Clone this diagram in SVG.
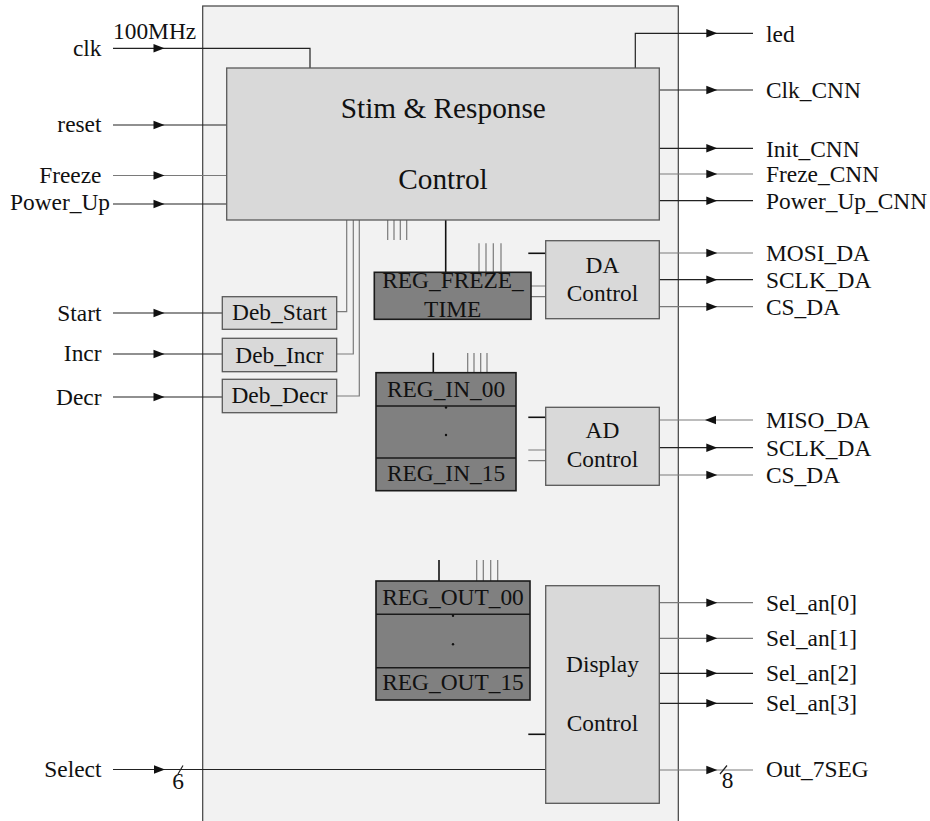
<svg xmlns="http://www.w3.org/2000/svg" xmlns:xlink="http://www.w3.org/1999/xlink" width="930" height="821" viewBox="0 0 930 821">
<style>
text{font-family:"Liberation Serif","Times New Roman",serif;font-size:23.4px;fill:#111}
.c{text-anchor:middle}
.e{text-anchor:end}
.big{font-size:29.3px}
.blk{fill:#d9d9d9;stroke:#595959;stroke-width:1.3}
.reg{fill:#808080;stroke:#1a1a1a;stroke-width:1.6}
.w{fill:none;stroke:#222;stroke-width:1.2}
.g{fill:none;stroke:#7a7a7a;stroke-width:1.2}
.d{fill:none;stroke:#111;stroke-width:1.6}
</style>
<defs>
<path id="arr" d="M0,0 L-11,-4.2 L-11,4.2 Z" fill="#111"/>
</defs>
<rect id="outer" x="202.7" y="6" width="475.6" height="830" fill="#f2f2f2" stroke="#404040" stroke-width="1.2"/>

<g id="connectors">
<path class="w" d="M113,48.3 H310 V68"/>
<path class="w" d="M113,125 H226.7"/>
<path class="g" d="M113,175.5 H226.7"/>
<path class="w" d="M113,204 H226.7"/>
<path class="w" d="M113,313 H222.3"/>
<path class="w" d="M113,354 H222.3"/>
<path class="w" d="M113,397 H222.3"/>
<path class="w" d="M113,769.5 H545.7"/>
<path class="w" d="M635.3,68 V33.3 H753"/>
<path class="w" d="M659.3,90 H753"/>
<path class="w" d="M659.3,148.3 H753"/>
<path class="g" d="M659.3,174 H753"/>
<path class="w" d="M659.3,200.7 H753"/>
<path class="g" d="M659.3,253 H753"/>
<path class="w" d="M659.3,279.7 H753"/>
<path class="g" d="M659.3,306.7 H753"/>
<path class="g" d="M659.3,420 H753"/>
<path class="w" d="M659.3,447.7 H753"/>
<path class="g" d="M659.3,475 H753"/>
<path class="g" d="M659.3,602.7 H753"/>
<path class="g" d="M659.3,638.3 H753"/>
<path class="w" d="M659.3,673.3 H753"/>
<path class="w" d="M659.3,703.3 H753"/>
<path class="g" d="M659.3,770 H753"/>
<path class="g" d="M336.7,311.7 H346.7 V220"/>
<path class="g" d="M336.7,354 H353.3 V220"/>
<path class="g" d="M336.7,396 H359.3 V220"/>
<path class="g" d="M387.7,220 V240 M394,220 V240 M400.3,220 V240 M406.7,220 V240"/>
<path class="d" d="M445.7,220 V272.3"/>
<path class="g" d="M479,243.3 V272.3 M486,243.3 V272.3 M493.3,243.3 V272.3 M501,243.3 V272.3"/>
<path class="g" d="M531,286 H545.7 M531,296.7 H545.7"/>
<path class="d" d="M528.3,253.3 H545.7"/>
<path class="d" d="M433.3,352.7 V372.7"/>
<path class="g" d="M467.7,353 V372.7 M474,353 V372.7 M480.7,353 V372.7 M487,353 V372.7"/>
<path class="d" d="M528.3,417.3 H545.7"/>
<path class="g" d="M528.3,450 H545.7 M528.3,460.7 H545.7"/>
<path class="d" d="M439,560 V581"/>
<path class="g" d="M476.7,560 V581 M483.3,560 V581 M490.7,560 V581 M497.7,560 V581"/>
<path class="d" d="M528.3,734.3 H545.7"/>
<path class="w" d="M178,774 L183,765.5 M720,774 L727,765.5"/>
<use xlink:href="#arr" x="164.5" y="48.3"/>
<use xlink:href="#arr" x="164.5" y="125"/>
<use xlink:href="#arr" x="164.5" y="175.5"/>
<use xlink:href="#arr" x="164.5" y="204"/>
<use xlink:href="#arr" x="164.5" y="313"/>
<use xlink:href="#arr" x="164.5" y="354"/>
<use xlink:href="#arr" x="164.5" y="397"/>
<use xlink:href="#arr" x="165" y="769.5"/>
<use xlink:href="#arr" x="717.3" y="33.3"/>
<use xlink:href="#arr" x="717.3" y="90"/>
<use xlink:href="#arr" x="717.3" y="148.3"/>
<use xlink:href="#arr" x="717.3" y="174"/>
<use xlink:href="#arr" x="717.3" y="200.7"/>
<use xlink:href="#arr" x="717.3" y="253"/>
<use xlink:href="#arr" x="717.3" y="279.7"/>
<use xlink:href="#arr" x="717.3" y="306.7"/>
<use xlink:href="#arr" transform="translate(705,420) rotate(180)"/>
<use xlink:href="#arr" x="717.3" y="447.7"/>
<use xlink:href="#arr" x="717.3" y="475"/>
<use xlink:href="#arr" x="717.3" y="602.7"/>
<use xlink:href="#arr" x="717.3" y="638.3"/>
<use xlink:href="#arr" x="717.3" y="673.3"/>
<use xlink:href="#arr" x="717.3" y="703.3"/>
<use xlink:href="#arr" x="717.3" y="770"/>
</g>

<g id="stim">
<rect class="blk" x="226.7" y="68" width="432.6" height="152"/>
<text class="c big" x="443.3" y="117.7">Stim &amp; Response</text>
<text class="c big" x="443" y="189.3">Control</text>
</g>
<g id="deb_start"><rect class="blk" x="222.3" y="296.7" width="114.4" height="32.6"/><text class="c" x="279.5" y="320">Deb_Start</text></g>
<g id="deb_incr"><rect class="blk" x="222.3" y="338.3" width="114.4" height="33.4"/><text class="c" x="279.5" y="362.7">Deb_Incr</text></g>
<g id="deb_decr"><rect class="blk" x="222.3" y="379.3" width="114.4" height="33.4"/><text class="c" x="279.5" y="403.3">Deb_Decr</text></g>
<g id="reg_freze">
<rect class="reg" x="374.3" y="272.3" width="156.7" height="47"/>
<text class="c" x="453" y="288.3">REG_FREZE_</text>
<text class="c" x="452.7" y="316.7">TIME</text>
</g>
<g id="da_control">
<rect class="blk" x="545.7" y="240.7" width="113.6" height="78"/>
<text class="c" x="602.5" y="273.3">DA</text>
<text class="c" x="602.5" y="301">Control</text>
</g>
<g id="reg_in">
<rect class="reg" x="376" y="372.7" width="140" height="118"/>
<path d="M376,406 H516 M376,458 H516" stroke="#1a1a1a" stroke-width="1.6"/>
<circle cx="446" cy="407.5" r="1.2" fill="#111"/>
<circle cx="446" cy="435" r="1.2" fill="#111"/>
<text class="c" x="446" y="396.7">REG_IN_00</text>
<text class="c" x="446" y="480.7">REG_IN_15</text>
</g>
<g id="ad_control">
<rect class="blk" x="545.7" y="407.3" width="113.6" height="78"/>
<text class="c" x="602.5" y="438.3">AD</text>
<text class="c" x="602.5" y="466.7">Control</text>
</g>
<g id="reg_out">
<rect class="reg" x="376" y="581" width="154" height="119"/>
<path d="M376,614.3 H530 M376,667.7 H530" stroke="#1a1a1a" stroke-width="1.6"/>
<circle cx="453" cy="615.7" r="1.2" fill="#111"/>
<circle cx="453" cy="644.3" r="1.2" fill="#111"/>
<text class="c" x="453" y="605">REG_OUT_00</text>
<text class="c" x="453" y="690">REG_OUT_15</text>
</g>
<g id="display_control">
<rect class="blk" x="545.7" y="585.7" width="113.6" height="217.6"/>
<text class="c" x="602.5" y="671.7">Display</text>
<text class="c" x="602.5" y="730.7">Control</text>
</g>

<g id="labels">
<text class="e" x="101.5" y="56">clk</text>
<text x="113" y="39">100MHz</text>
<text class="e" x="101.5" y="132">reset</text>
<text class="e" x="101.5" y="182.7">Freeze</text>
<text class="e" x="110" y="210">Power_Up</text>
<text class="e" x="101.5" y="320.7">Start</text>
<text class="e" x="101.5" y="361">Incr</text>
<text class="e" x="101.5" y="405">Decr</text>
<text class="e" x="101.5" y="777">Select</text>
<text class="c" x="178" y="789.3">6</text>
<text class="c" x="727.5" y="788">8</text>
<text x="766" y="41.7">led</text>
<text x="766" y="98.3">Clk_CNN</text>
<text x="766" y="156.7">Init_CNN</text>
<text x="766" y="182.3">Freze_CNN</text>
<text x="766" y="209">Power_Up_CNN</text>
<text x="766" y="260.5">MOSI_DA</text>
<text x="766" y="287.5">SCLK_DA</text>
<text x="766" y="314.5">CS_DA</text>
<text x="766" y="427.5">MISO_DA</text>
<text x="766" y="455.5">SCLK_DA</text>
<text x="766" y="482.5">CS_DA</text>
<text x="766" y="610.7">Sel_an[0]</text>
<text x="766" y="646">Sel_an[1]</text>
<text x="766" y="681">Sel_an[2]</text>
<text x="766" y="711">Sel_an[3]</text>
<text x="766" y="777">Out_7SEG</text>
</g>
</svg>
